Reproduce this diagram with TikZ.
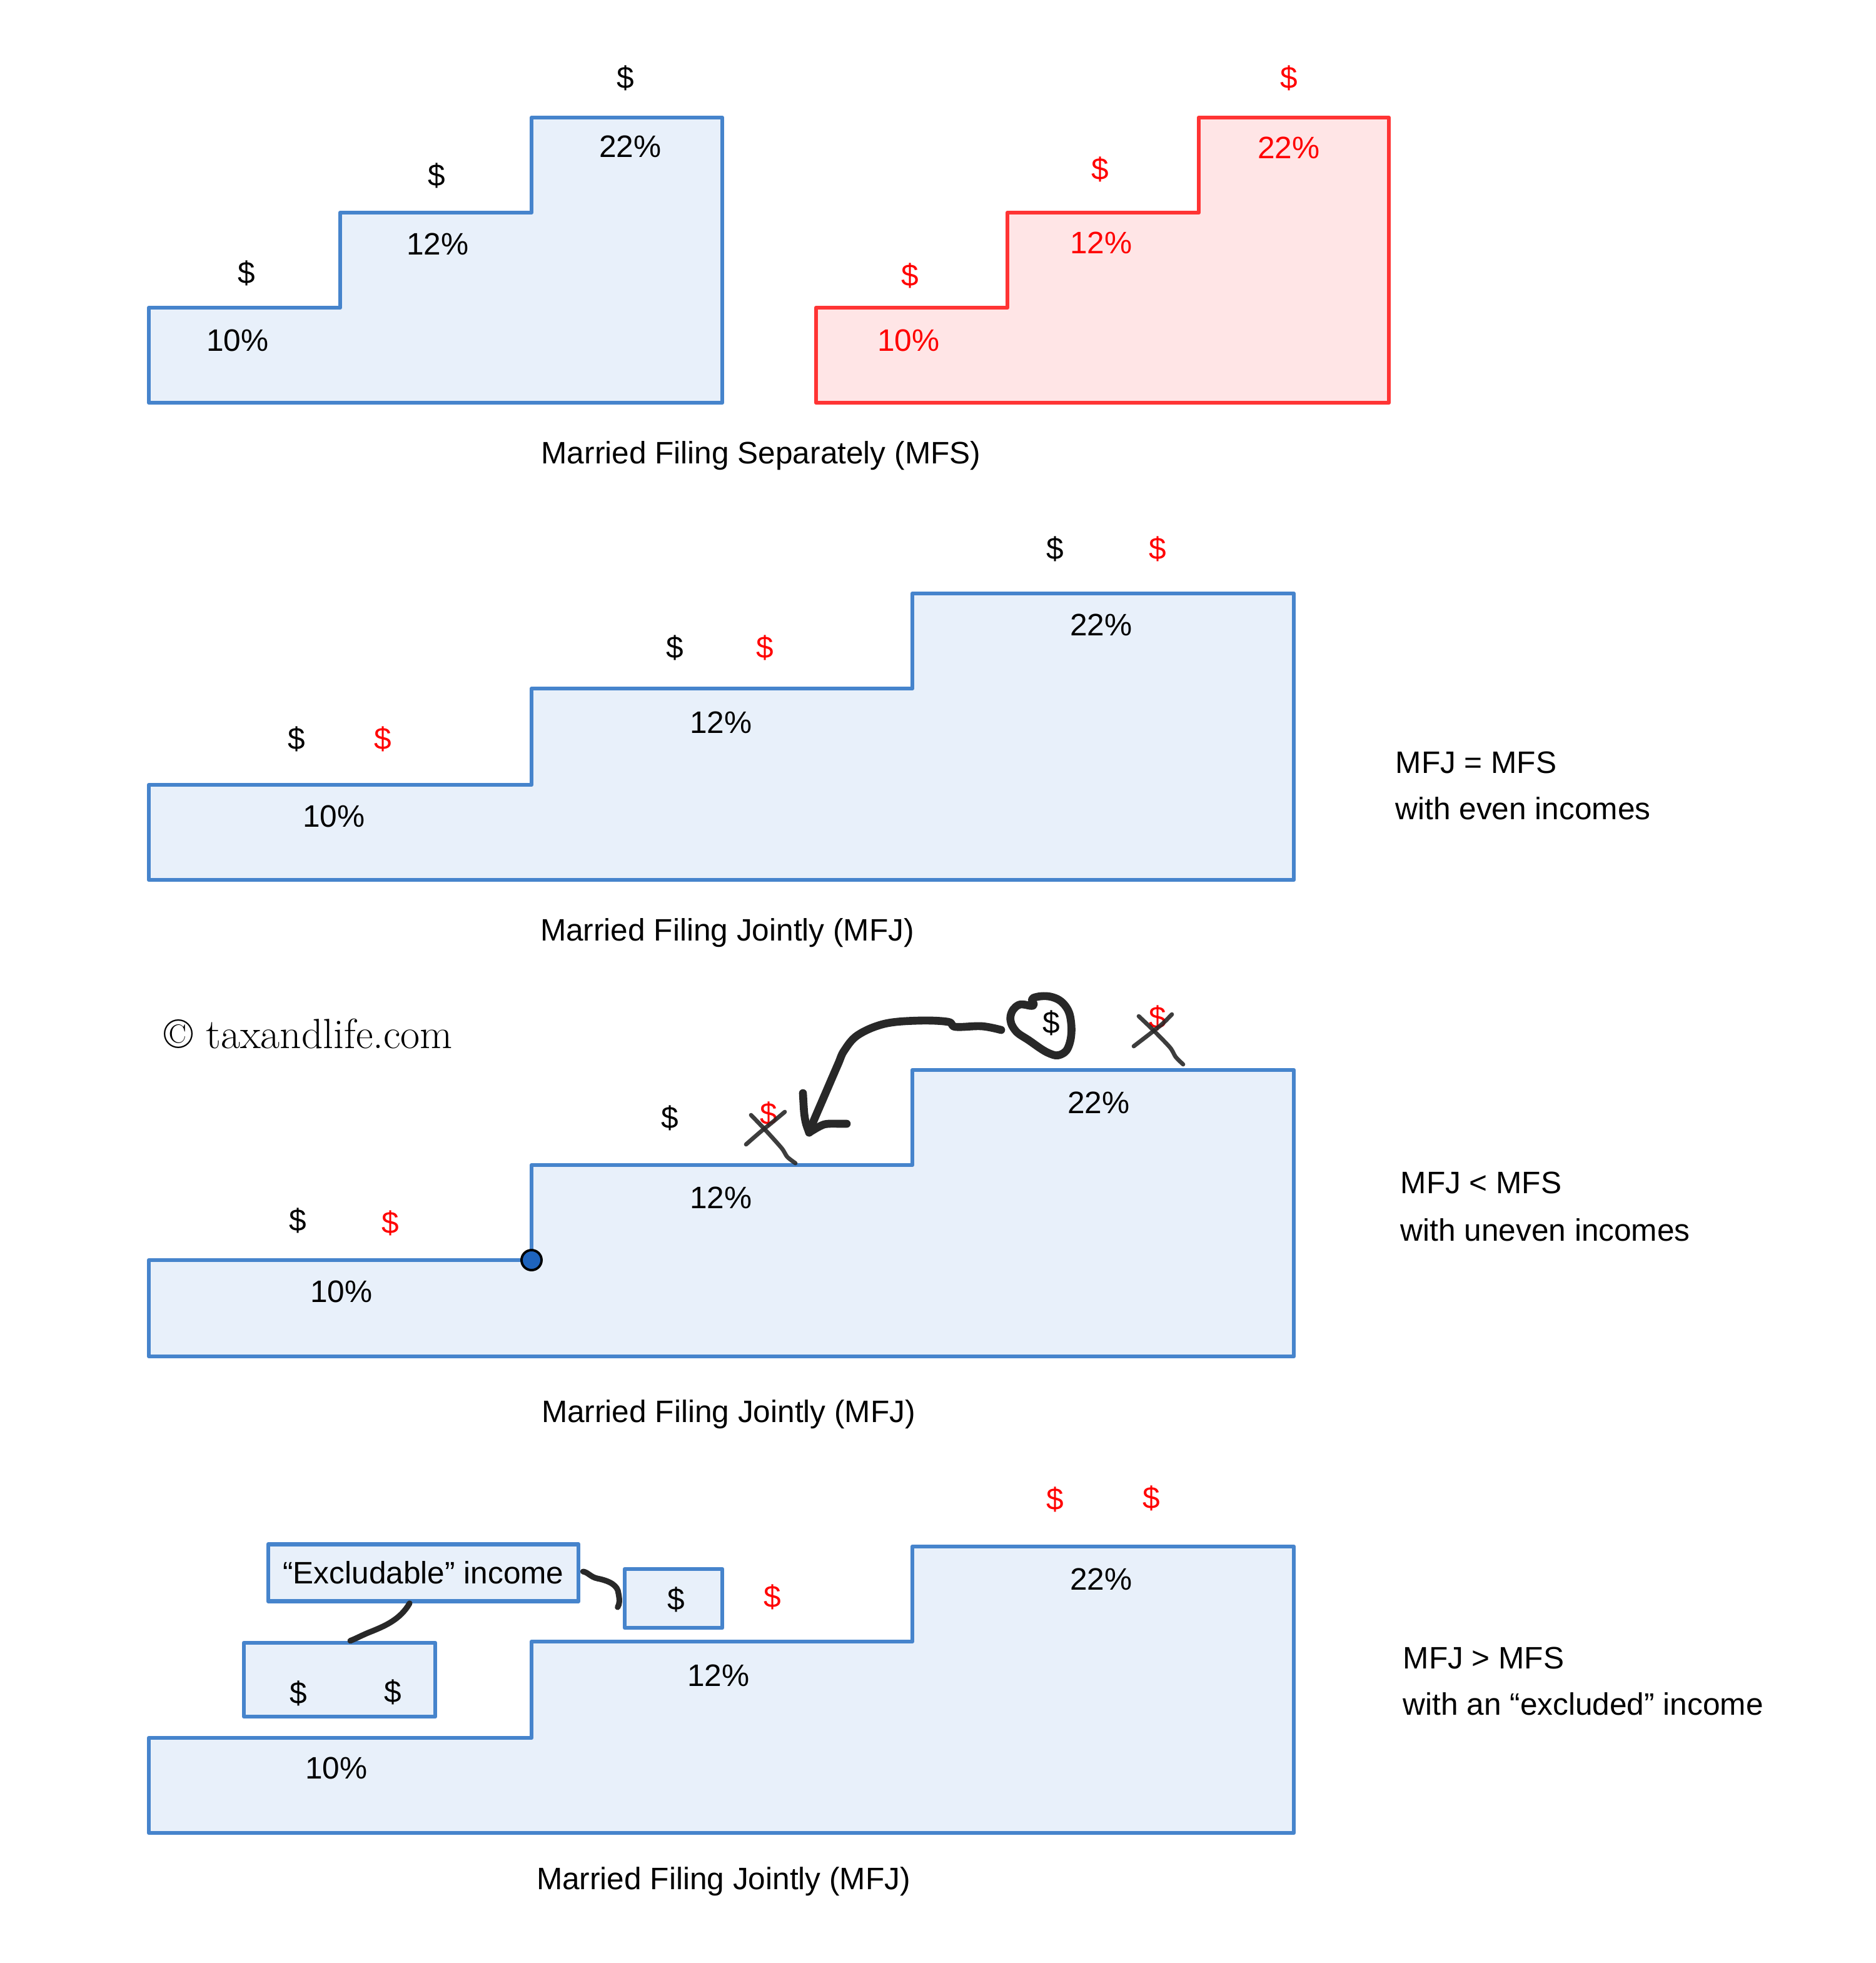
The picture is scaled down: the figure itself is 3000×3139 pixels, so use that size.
\documentclass[tikz,border=0pt]{standalone}
\usepackage{fontspec}
\newfontfamily\hel{Liberation Sans}
\usetikzlibrary{calc}
\definecolor{bstroke}{RGB}{70,132,204}
\definecolor{bfill}{RGB}{232,240,250}
\definecolor{rstroke}{RGB}{255,52,52}
\definecolor{rfill}{RGB}{255,229,230}
\definecolor{rtext}{RGB}{255,0,0}
\definecolor{inkc}{RGB}{40,40,40}
\definecolor{dotc}{RGB}{30,100,190}
\begin{document}
\begin{tikzpicture}[x=0.01cm,y=-0.01cm,
  bstep/.style={draw=bstroke,fill=bfill,line width=1.85pt,line join=round,line cap=round},
  rstep/.style={draw=rstroke,fill=rfill,line width=1.85pt,line join=round,line cap=round},
  lbl/.style={font=\hel\fontsize{14.1}{16}\selectfont,inner sep=0pt,anchor=base},
  rl/.style={lbl,text=rtext},
  side/.style={lbl,anchor=base west},
  ink/.style={draw=inkc,line width=3.6pt,line cap=round,line join=round},
  thinink/.style={draw=inkc,line width=1.9pt,line cap=round,line join=round,opacity=0.9},
  midink/.style={draw=inkc,line width=2.6pt,line cap=round,line join=round},
  bbox/.style={draw=bstroke,fill=bfill,line width=1.85pt,line join=round,inner sep=0pt}
]
\useasboundingbox (0,0) rectangle (3000,3139);

% ---------- Panel 1 ----------
\draw[bstep] (238,644) -- (238,492) -- (544,492) -- (544,340) -- (850,340) -- (850,188) -- (1155,188) -- (1155,644) -- cycle;
\node[lbl] (d11) at (394,453) {\$};
\node[lbl] (d12) at (698,297) {\$};
\node[lbl] (d13) at (1000,141) {\$};
\node[lbl] (p11) at (380,561) {10\%};
\node[lbl] (p12) at (700,407) {12\%};
\node[lbl] (p13) at (1008,251) {22\%};

\draw[rstep] (1305,644) -- (1305,492) -- (1611,492) -- (1611,340) -- (1917,340) -- (1917,188) -- (2221,188) -- (2221,644) -- cycle;
\node[rl] (r11) at (1455,457) {\$};
\node[rl] (r12) at (1759,287) {\$};
\node[rl] (r13) at (2061,141) {\$};
\node[rl] (rp11) at (1453,561) {10\%};
\node[rl] (rp12) at (1761,405) {12\%};
\node[rl] (rp13) at (2061,253) {22\%};
\node[lbl] (cap1) at (1217,741) {Married Filing Separately (MFS)};

% ---------- Panel 2 ----------
\draw[bstep] (238,1407) -- (238,1255) -- (850,1255) -- (850,1101) -- (1459,1101) -- (1459,949) -- (2069,949) -- (2069,1407) -- cycle;
\node[lbl] (d21) at (474,1198) {\$};
\node[rl]  (r21) at (612,1198) {\$};
\node[lbl] (d22) at (1079,1052) {\$};
\node[rl]  (r22) at (1223,1052) {\$};
\node[lbl] (d23) at (1687,894) {\$};
\node[rl]  (r23) at (1851,894) {\$};
\node[lbl] (p21) at (534,1322) {10\%};
\node[lbl] (p22) at (1153,1172) {12\%};
\node[lbl] (p23) at (1761,1016) {22\%};
\node[lbl] (cap2) at (1163,1504) {Married Filing Jointly (MFJ)};
\node[side] (s2a) at (2231,1236) {MFJ = MFS};
\node[side] (s2b) at (2231,1310) {with even incomes};

% ---------- Panel 3 ----------
\node[anchor=base west,inner sep=0pt,font=\fontsize{19.2}{22}\selectfont] (copy) at (262,1676) {© taxandlife.com};
\draw[bstep] (238,2169) -- (238,2015) -- (850,2015) -- (850,1863) -- (1459,1863) -- (1459,1711) -- (2069,1711) -- (2069,2169) -- cycle;
\node[circle,fill=dotc,draw=black,line width=1.1pt,minimum size=0.32cm,inner sep=0pt] (dot) at (850,2015) {};
\node[lbl] (d31) at (476,1968) {\$};
\node[rl]  (r31) at (624,1972) {\$};
\node[lbl] (d32) at (1071,1804) {\$};
\node[rl]  (r32) at (1229,1798) {\$};
\node[lbl] (cd)  at (1681,1652) {\$};
\node[rl]  (r33) at (1851,1644) {\$};
\node[lbl] (p31) at (546,2082) {10\%};
\node[lbl] (p32) at (1153,1932) {12\%};
\node[lbl] (p33) at (1757,1780) {22\%};
\node[lbl] (cap3) at (1165,2274) {Married Filing Jointly (MFJ)};
\node[side] (s3a) at (2239,1908) {MFJ < MFS};
\node[side] (s3b) at (2239,1984) {with uneven incomes};

% circle around the moved dollar
\draw[ink] plot[smooth cycle,tension=0.7] coordinates {(1652,1596) (1681,1594) (1704,1609) (1713,1637) (1710,1670) (1697,1686) (1677,1684) (1646,1664) (1623,1647) (1616,1625) (1629,1607) (1652,1608)};
% arrow from circled dollar down to the 12% step
\draw[ink] plot[smooth,tension=0.6] coordinates {(1601,1647) (1570,1641) (1528,1642) (1516,1634) (1470,1632) (1415,1637) (1372,1655) (1350,1680) (1340,1702) (1318,1753) (1300,1795) (1294,1811)};
\draw[ink] plot[smooth,tension=0.5] coordinates {(1284,1748) (1286,1780) (1289,1797) (1294,1811)};
\draw[ink] plot[smooth,tension=0.5] coordinates {(1294,1811) (1318,1798) (1345,1797) (1354,1797)};
% crosses over the red dollars
\draw[thinink] plot[smooth,tension=0.5] coordinates {(1201,1783) (1224,1807) (1250,1836) (1259,1850) (1272,1860)};
\draw[thinink] plot[smooth,tension=0.5] coordinates {(1193,1830) (1216,1810) (1237,1793) (1255,1778)};
\draw[thinink] plot[smooth,tension=0.5] coordinates {(1821,1625) (1844,1647) (1871,1675) (1880,1690) (1892,1702)};
\draw[thinink] plot[smooth,tension=0.5] coordinates {(1813,1673) (1839,1653) (1859,1637) (1874,1622)};

% ---------- Panel 4 ----------
\draw[bstep] (238,2931) -- (238,2779) -- (850,2779) -- (850,2625) -- (1459,2625) -- (1459,2473) -- (2069,2473) -- (2069,2931) -- cycle;
\node[lbl] (p41) at (538,2844) {10\%};
\node[lbl] (p42) at (1149,2696) {12\%};
\node[lbl] (p43) at (1761,2542) {22\%};
\node[rl] (r41) at (1235,2570) {\$};
\node[rl] (r42) at (1687,2414) {\$};
\node[rl] (r43) at (1841,2412) {\$};
\node[bbox,minimum width=1.56cm,minimum height=0.94cm] (sbox) at (1077,2556) {};
\node[lbl] (sd) at (1081,2574) {\$};
\node[bbox,minimum width=4.96cm,minimum height=0.91cm,font=\hel\fontsize{14.1}{16}\selectfont] (exbox) at (677,2515) {“Excludable” income};
\node[bbox,minimum width=3.06cm,minimum height=1.18cm] (ddbox) at (543,2686) {};
\node[lbl] (dd1) at (477,2724) {\$};
\node[lbl] (dd2) at (628,2722) {\$};
\draw[midink] ($(exbox.south)+(-22,0)$) .. controls (640,2590) and (615,2600) .. (596,2608) .. controls (580,2614) and (570,2620) .. ($(ddbox.north)+(17,0)$);
\draw[midink] ($(exbox.east)+(4,-2)$) .. controls (940,2514) and (945,2522) .. (955,2524) .. controls (975,2528) and (988,2535) .. (989,2548) .. controls (991,2558) and (991,2565) .. ($(sbox.west)+(-8,14)$);
\node[lbl] (cap4) at (1157,3021) {Married Filing Jointly (MFJ)};
\node[side] (s4a) at (2243,2668) {MFJ > MFS};
\node[side] (s4b) at (2243,2742) {with an “excluded” income};
\end{tikzpicture}
\end{document}
